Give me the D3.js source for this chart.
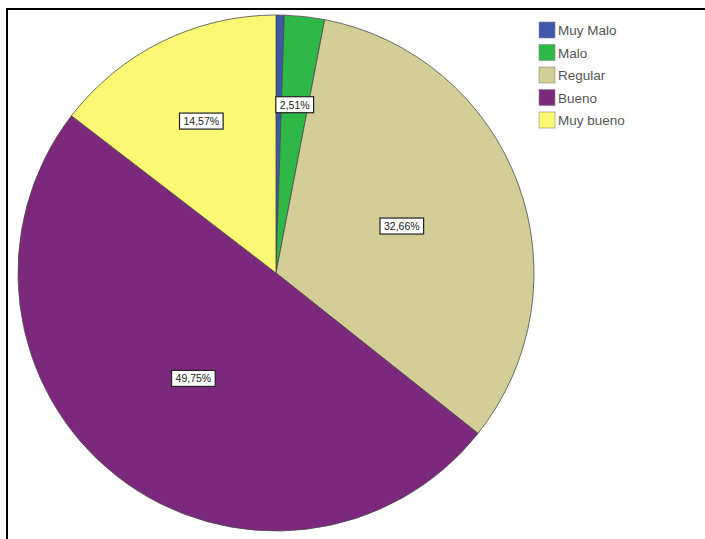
<!DOCTYPE html>
<html>
<head>
<meta charset="utf-8">
<script src="https://cdn.jsdelivr.net/npm/d3@7"></script>
<style>
  body { margin: 0; background: #fff; }
  svg { display: block; font-family: "Liberation Sans", Arial, sans-serif; }
</style>
</head>
<body>
<script>
var width  = 705,
    height = 539;

// categories and percentages (reading order: clockwise from 12 o'clock)
var categories = ['Muy Malo', 'Malo', 'Regular', 'Bueno', 'Muy bueno'];
var values     = [0.51, 2.51, 32.66, 49.75, 14.57];
var labels     = ['', '2,51%', '32,66%', '49,75%', '14,57%'];
var colors     = ['#3e58ac', '#2eb848', '#d3ce97', '#7c287d', '#fbf873'];

var svg = d3.select('body').append('svg')
    .attr('width', width)
    .attr('height', height);

// chart frame (left + top edges visible)
svg.append('rect')
    .attr('x', 7).attr('y', 9)
    .attr('width', 720).attr('height', 560)
    .attr('fill', 'none')
    .attr('stroke', '#000')
    .attr('stroke-width', 2);

var cx = 276, cy = 273, r = 258;

var pie = d3.pie().sort(null).value(function(d) { return d; });
var arcs = pie(values);

var arc = d3.arc().innerRadius(0).outerRadius(r);

var g = svg.append('g').attr('transform', 'translate(' + cx + ',' + cy + ')');

g.selectAll('path')
    .data(arcs)
  .enter().append('path')
    .attr('d', arc)
    .attr('fill', function(d, i) { return colors[i]; })
    .attr('stroke', '#4a4a4a')
    .attr('stroke-width', 0.8);

// labels: big slices closer to centre, small ones pushed out
var lab = g.selectAll('g.lab')
    .data(arcs.filter(function(d, i) { return labels[i] !== ''; }))
  .enter().append('g')
    .attr('class', 'lab')
    .attr('transform', function(d) {
      var f = d.value > 20 ? 0.52 : 0.655;
      var c = d3.arc().innerRadius(0).outerRadius(2 * r * f).centroid(d);
      return 'translate(' + c[0] + ',' + c[1] + ')';
    });

lab.append('text')
    .attr('text-anchor', 'middle')
    .attr('dy', '0.35em')
    .attr('font-size', 10.5)
    .attr('fill', '#222')
    .text(function(d) { return labels[d.index]; })
    .each(function() {
      var b = this.getBBox();
      d3.select(this.parentNode).insert('rect', 'text')
          .attr('x', b.x - 4).attr('y', b.y - 2)
          .attr('width', b.width + 8).attr('height', b.height + 4)
          .attr('fill', '#fff')
          .attr('stroke', '#222')
          .attr('stroke-width', 1.2);
    });

// legend
var legend = svg.append('g').attr('transform', 'translate(539,22)');
var row = legend.selectAll('g')
    .data(categories)
  .enter().append('g')
    .attr('transform', function(d, i) { return 'translate(0,' + (i * 22.5) + ')'; });

row.append('rect')
    .attr('width', 16).attr('height', 16)
    .attr('fill', function(d, i) { return colors[i]; })
    .attr('stroke', '#888')
    .attr('stroke-width', 0.6);

row.append('text')
    .attr('x', 19).attr('y', 8.5)
    .attr('dy', '0.35em')
    .attr('font-size', 13.5)
    .attr('fill', '#555')
    .text(function(d) { return d; });
</script>
</body>
</html>
